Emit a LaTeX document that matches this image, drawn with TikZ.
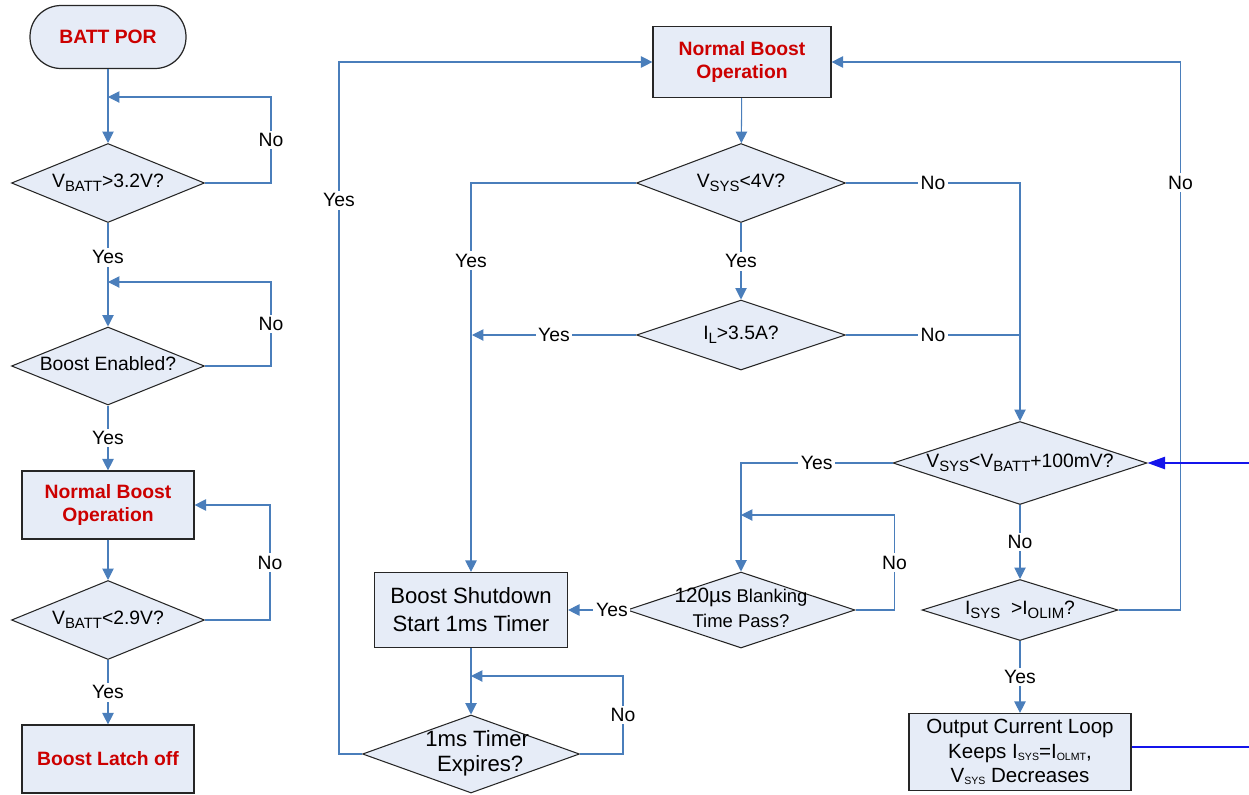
\documentclass[tikz,border=0pt]{standalone}
\usepackage{fontspec}
\setmainfont{Liberation Sans}
\usetikzlibrary{shapes.geometric,arrows.meta}
\definecolor{flowblue}{RGB}{74,126,187}
\definecolor{boxfill}{RGB}{230,236,247}
\definecolor{titlered}{RGB}{204,0,0}
\definecolor{wireblue}{RGB}{20,20,235}
\newcommand{\subt}[1]{\raisebox{-0.35ex}{\fontsize{8.5}{9}\selectfont #1}}
\newcommand{\tinysub}[1]{\raisebox{-0.2ex}{\fontsize{6}{7}\selectfont #1}}
\newcommand{\dtext}[1]{\makebox[0pt]{\begin{tabular}{@{}c@{}}#1\end{tabular}}}

\begin{document}
\begin{tikzpicture}[x=0.02cm, y=-0.02cm,
  every node/.style={font=\fontsize{11}{13}\selectfont},
  proc/.style={rectangle,draw=black!85,fill=boxfill,line width=0.7pt,align=center,inner sep=0pt},
  title/.style={text=titlered,font=\fontsize{11}{13.6}\selectfont\bfseries},
  decision/.style={diamond,draw=black!85,fill=boxfill,line width=0.6pt,inner sep=0pt},
  flow/.style={draw=flowblue,line width=0.6pt,-{Triangle[length=6.5pt,width=6.5pt]}},
  wire/.style={draw=flowblue,line width=0.6pt},
  lbl/.style={fill=white,inner sep=1.5pt}]
  \useasboundingbox (0,0) rectangle (1249,795);

  % left column
  \node (por) [proc,title,rounded corners=0.62cm,minimum width=3.12cm,minimum height=1.26cm] at (108,37) {BATT POR};
  \node (d1) [decision,minimum width=3.86cm,minimum height=1.58cm] at (108,183) {\dtext{V\subt{BATT}>3.2V?}};
  \node (d2) [decision,minimum width=3.86cm,minimum height=1.56cm] at (108,366) {\dtext{Boost Enabled?}};
  \node (nbo1) [proc,title,minimum width=3.44cm,minimum height=1.36cm] at (108,505) {Normal Boost\\Operation};
  \node (d3) [decision,minimum width=3.86cm,minimum height=1.58cm] at (108,620) {\dtext{V\subt{BATT}<2.9V?}};
  \node (latch) [proc,title,minimum width=3.44cm,minimum height=1.36cm] at (108,759) {Boost Latch off};
  \coordinate (j1) at (108,97);
  \coordinate (j2) at (108,282);

  \draw[flow] (por) -- (d1);
  \draw[flow] (d1.east) -- ++(66,0) |- (j1) node[lbl,pos=0.25] {No};
  \draw[flow] (d1) -- (d2) node[lbl,pos=0.33] {Yes};
  \draw[flow] (d2.east) -- ++(66,0) |- (j2) node[lbl,pos=0.25] {No};
  \draw[flow] (d2) -- (nbo1) node[lbl,midway] {Yes};
  \draw[flow] (nbo1) -- (d3);
  \draw[flow] (d3.east) -- ++(65,0) |- (nbo1.east) node[lbl,pos=0.25] {No};
  \draw[flow] (d3) -- (latch) node[lbl,midway] {Yes};

  % main loop
  \node (nbo) [proc,title,minimum width=3.56cm,minimum height=1.42cm] at (742,62) {Normal Boost\\Operation};
  \node (vsys) [decision,minimum width=4.18cm,minimum height=1.58cm] at (741,183) {\dtext{V\subt{SYS}<4V?}};
  \node (il) [decision,minimum width=4.18cm,minimum height=1.40cm] at (741,335) {\dtext{I\subt{L}>3.5A?}};
  \node (vbat) [decision,minimum width=5.08cm,minimum height=1.66cm] at (1020,463) {\dtext{V\subt{SYS}<V\subt{BATT}+100mV?}};
  \node (isys) [decision,minimum width=3.92cm,minimum height=1.22cm] at (1020,610) {\dtext{I\subt{SYS}\ \ >I\subt{OLIM}?}};
  \node (ocl) [proc,font=\fontsize{11.7}{14}\selectfont,minimum width=4.44cm,minimum height=1.54cm] at (1020,752) {Output Current Loop\\Keeps I\tinysub{SYS}=I\tinysub{OLMT},\\V\tinysub{SYS} Decreases};
  \node (blank) [decision,font=\fontsize{10.5}{14}\selectfont,minimum width=4.56cm,minimum height=1.52cm] at (741,610) {\dtext{{\fontsize{11.8}{14}\selectfont 120µs} Blanking\\Time Pass?}};
  \node (shut) [proc,font=\fontsize{12.6}{16}\selectfont,minimum width=3.86cm,minimum height=1.50cm] at (471,610) {Boost Shutdown\\Start 1ms Timer};
  \node (timer) [decision,font=\fontsize{12.6}{14}\selectfont,minimum width=4.34cm,minimum height=1.56cm] at (471,754) {\dtext{\ \ 1ms Timer\\\ \ \ Expires?}};
  \coordinate (jl) at (472,335);
  \coordinate (jr) at (1020,335);
  \coordinate (jb) at (741,515);
  \coordinate (jt) at (471,676);
  \coordinate (ein) at (1249,463);
  \coordinate (eout) at (1249,747);

  \draw[flow] (nbo) -- (vsys);
  \draw[flow] (vsys.west) -| (shut.north) node[lbl,pos=0.6] {Yes};
  \draw[flow] (vsys) -- (il) node[lbl,midway] {Yes};
  \draw[flow] (vsys.east) -| (vbat.north) node[lbl,pos=0.25] {No};
  \draw[flow] (il.west) -- (jl) node[lbl,midway] {Yes};
  \draw[wire] (il.east) -- (jr) node[lbl,midway] {No};
  \draw[flow] (vbat.west) -| (blank.north) node[lbl,pos=0.25] {Yes};
  \draw[flow] (vbat) -- (isys) node[lbl,midway] {No};
  \draw[flow] (isys.east) -- ++(62,0) |- (nbo.east) node[lbl,pos=0.39] {No};
  \draw[flow] (isys) -- (ocl) node[lbl,midway] {Yes};
  \draw[flow] (blank.east) -- ++(39,0) |- (jb) node[lbl,pos=0.25] {No};
  \draw[flow] (blank.west) -- (shut.east) node[lbl,pos=0.25] {Yes};
  \draw[flow] (shut) -- (timer);
  \draw[flow] (timer.east) -- ++(43,0) |- (jt) node[lbl,pos=0.25] {No};
  \draw[flow] (timer.west) -- ++(-23,0) |- (nbo.west) node[lbl,pos=0.4] {Yes};
  \draw[wireblue,line width=0.9pt,-{Triangle[length=10pt,width=7pt]}] (ein) -- (vbat.east);
  \draw[wireblue,line width=0.9pt] (ocl.east |- eout) -- (eout);
\end{tikzpicture}
\end{document}
